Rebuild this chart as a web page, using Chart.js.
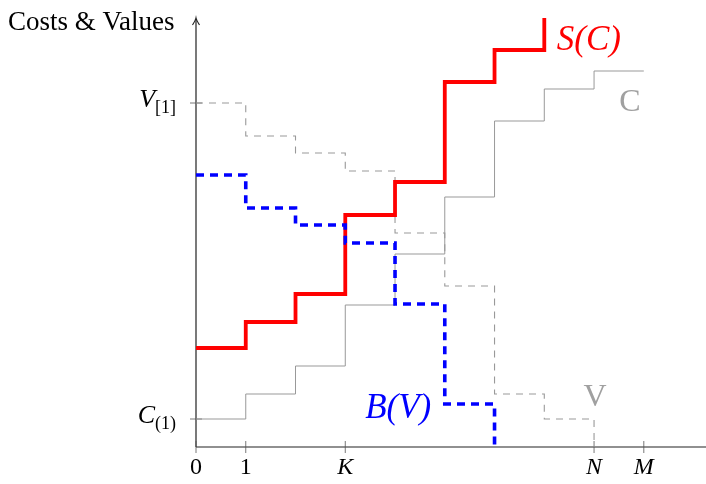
<!DOCTYPE html>
<html lang="en">

<head>
  <meta charset="UTF-8">
  <title>Costs & Values</title>
  <script src="https://cdn.jsdelivr.net/npm/chart.js"></script>
  <style>
    body {
      margin: 0;
      background-color: #fff;
    }

    .chart-box {
      width: 706px;
      height: 484px;
    }
  </style>
</head>

<body>
  <div class="chart-box">
    <canvas id="stepChart" width="706" height="484"></canvas>
  </div>

  <script>
    // x axis ticks
    const xTicks = [0, 1, 3, 8, 9];
    const xTickLabels = ['0', '1', 'K', 'N', 'M'];

    // y axis marks (value, main letter, subscript)
    const yTicks = [2.8, 34.4];
    const yTickMain = ['C', 'V'];
    const yTickSub = ['(1)', '[1]'];

    // step heights, one per unit interval starting at 0
    const costs = [2.8, 5.3, 8.1, 14.2, 19.3, 25.0, 32.6, 35.8, 37.6];   // C
    const values = [34.4, 31.1, 29.4, 27.6, 21.4, 16.1, 5.3, 2.8];       // V
    const supply = [9.9, 12.5, 15.3, 23.2, 26.5, 36.5, 39.7];            // S(C)
    const demand = [27.2, 23.9, 22.2, 20.4, 14.3, 4.3];                  // B(V)

    const yTop = 42.9;
    const xEnd = 10.25;

    function steps(arr, endY) {
      const pts = arr.map((v, i) => ({ x: i, y: v }));
      pts.push({ x: arr.length, y: arr[arr.length - 1] });
      if (endY !== undefined) pts.push({ x: arr.length, y: endY });
      return pts;
    }

    const serif = 'Liberation Serif';

    // axes, ticks and labels drawn on top of the library scales
    const decor = {
      id: 'decor',
      beforeDatasetsDraw(chart) {
        const { ctx, scales: { x, y } } = chart;
        const x0 = x.getPixelForValue(0);
        const y0 = y.getPixelForValue(0);
        ctx.save();
        ctx.strokeStyle = '#222';
        ctx.lineWidth = 1.2;
        ctx.beginPath();
        ctx.moveTo(x0, y0);
        ctx.lineTo(x.getPixelForValue(xEnd), y0);
        ctx.moveTo(x0, y0);
        ctx.lineTo(x0, y.getPixelForValue(yTop) + 1);
        ctx.stroke();
        // arrow head
        const ty = y.getPixelForValue(yTop);
        ctx.lineWidth = 1.2;
        ctx.beginPath();
        ctx.moveTo(x0 - 3.5, ty + 7);
        ctx.quadraticCurveTo(x0 - 0.5, ty + 2.5, x0, ty);
        ctx.quadraticCurveTo(x0 + 0.5, ty + 2.5, x0 + 3.5, ty + 7);
        ctx.stroke();

        ctx.strokeStyle = '#555';
        ctx.lineWidth = 0.8;
        ctx.beginPath();
        xTicks.forEach(v => {
          const px = x.getPixelForValue(v);
          ctx.moveTo(px, y0 - 6);
          ctx.lineTo(px, y0 + 6);
        });
        yTicks.forEach(v => {
          const py = y.getPixelForValue(v);
          ctx.moveTo(x0 - 6, py);
          ctx.lineTo(x0 + 6, py);
        });
        ctx.stroke();
        ctx.restore();
      },
      afterDraw(chart) {
        const { ctx, scales: { x, y } } = chart;
        ctx.save();
        ctx.textBaseline = 'alphabetic';

        // y axis title
        ctx.fillStyle = '#000';
        ctx.font = `27px "${serif}"`;
        ctx.textAlign = 'left';
        ctx.fillText('Costs & Values', 8, 30);

        // y tick labels with subscripts
        yTicks.forEach((v, i) => {
          const py = y.getPixelForValue(v);
          ctx.font = `18px "${serif}"`;
          const subW = ctx.measureText(yTickSub[i]).width;
          const right = x.getPixelForValue(0) - 20;
          ctx.textAlign = 'right';
          ctx.fillText(yTickSub[i], right, py + 10);
          ctx.font = `italic 26px "${serif}"`;
          ctx.fillText(yTickMain[i], right - subW, py + 4);
        });

        // series labels
        const lab = (txt, vx, vy, color, font, align) => {
          ctx.fillStyle = color;
          ctx.font = font;
          ctx.textAlign = align;
          ctx.textBaseline = 'middle';
          ctx.fillText(txt, x.getPixelForValue(vx), y.getPixelForValue(vy));
        };
        lab('S(C)', 7.25, 40.6, '#ff0000', `italic 35px "${serif}"`, 'left');
        lab('B(V)', 3.4, 3.8, '#0000ff', `italic 35px "${serif}"`, 'left');
        lab('C', 8.72, 34.4, '#a0a0a0', `32px "${serif}"`, 'center');
        lab('V', 8.02, 4.9, '#a0a0a0', `32px "${serif}"`, 'center');
        ctx.restore();
      }
    };

    const line = (data, color, width, dash) => ({
      data: data,
      borderColor: color,
      borderWidth: width,
      borderDash: dash,
      stepped: 'before',
      pointRadius: 0,
      fill: false,
      clip: false,
      borderCapStyle: 'butt',
      borderJoinStyle: 'miter'
    });

    new Chart(document.getElementById('stepChart'), {
      type: 'line',
      data: {
        datasets: [
          line(steps(demand, 0), '#0000ff', 3.6, [8, 6]),
          line(steps(supply, yTop), '#ff0000', 3.8, []),
          line(steps(costs), '#999999', 1, []),
          line(steps(values, 0), '#999999', 1.1, [7, 6])
        ]
      },
      options: {
        responsive: false,
        animation: false,
        layout: { padding: { top: 18, right: 0, left: 0, bottom: 0 } },
        plugins: { legend: { display: false }, tooltip: { enabled: false } },
        scales: {
          x: {
            type: 'linear',
            min: 0,
            max: xEnd,
            grid: { display: false, drawTicks: false },
            border: { display: false },
            afterBuildTicks: scale => { scale.ticks = xTicks.map(v => ({ value: v })); },
            afterFit: scale => { scale.height = 37; },
            ticks: {
              autoSkip: false,
              maxRotation: 0,
              padding: 6,
              color: '#000',
              callback: (v, i) => xTickLabels[i],
              font: ctx => ({ family: serif, size: 24, style: ctx.index >= 2 ? 'italic' : 'normal' })
            }
          },
          y: {
            min: 0,
            max: yTop,
            grid: { display: false, drawTicks: false },
            border: { display: false },
            ticks: { display: false },
            afterFit: scale => { scale.width = 196; }
          }
        }
      },
      plugins: [decor]
    });
  </script>
</body>

</html>
